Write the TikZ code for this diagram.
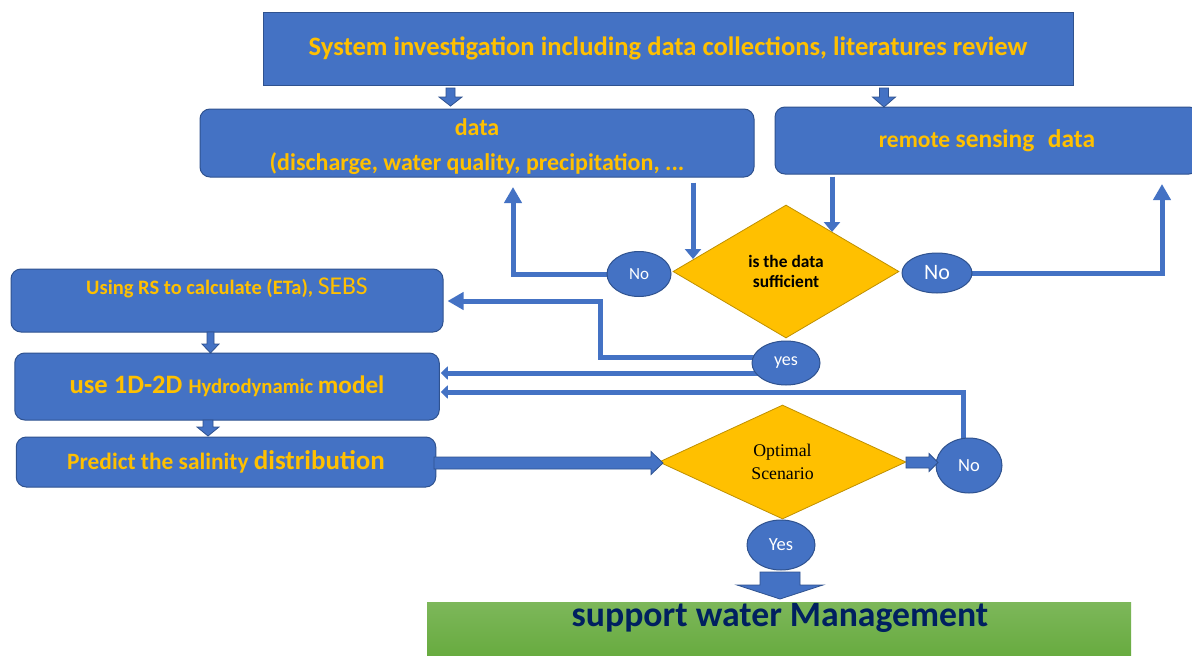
\documentclass[tikz,border=0pt]{standalone}
\usepackage{fontspec}
\setmainfont{Carlito}
\newfontfamily\timesf{Liberation Serif}
\usetikzlibrary{shapes.geometric,arrows.meta,calc,backgrounds}
\definecolor{bl}{HTML}{4472C4}
\definecolor{bd}{HTML}{2F528F}
\definecolor{yl}{HTML}{FFC000}
\definecolor{gd}{HTML}{BF9000}
\definecolor{nv}{HTML}{002060}
\definecolor{gtop}{RGB}{125,183,90}
\definecolor{gbot}{RGB}{98,168,56}
\newcommand\fsz[1]{\fontsize{#1pt}{\dimexpr #1pt*6/5\relax}\selectfont}
\newcommand\blkdown[6]{\filldraw[blk] ({#1-#5},#2) -- ({#1+#5},#2) -- ({#1+#5},#3) -- ({#1+#6},#3) -- (#1,#4) -- ({#1-#6},#3) -- ({#1-#5},#3) -- cycle;}
\newcommand\blkright[6]{\filldraw[blk] (#2,{#1-#5}) -- (#3,{#1-#5}) -- (#3,{#1-#6}) -- (#4,#1) -- (#3,{#1+#6}) -- (#3,{#1+#5}) -- (#2,{#1+#5}) -- cycle;}
\tikzset{
  box/.style={draw=bd, fill=bl, line width=1pt, rounded corners=10pt, text=yl, font=\bfseries, inner sep=0pt, align=center},
  dm/.style={diamond, draw=gd, fill=yl, line width=0.8pt, inner sep=0pt, align=center},
  el/.style={ellipse, draw=bd, fill=bl, line width=1pt, text=white, inner sep=0pt},
  blk/.style={fill=bl, draw=bd, line width=0.8pt},
  conn/.style={draw=bl, line width=5pt},
  tipA/.tip={Triangle[length=16pt,width=17pt]},
  tipB/.tip={Triangle[length=7pt,width=13pt]},
  tipC/.tip={Triangle[length=10pt,width=16pt]}
}
\begin{document}
\begin{tikzpicture}[x=1pt,y=-1pt]
\begin{scope}[on background layer]
\fill[white] (0,0) rectangle (1192,656);
\end{scope}
\useasboundingbox (0,0) rectangle (1192,656);

% boxes
\node[box, sharp corners, minimum width=810, minimum height=73] (sys) at (668,48.5)
  {\fsz{26.6}System investigation including data collections, literatures review};
\node[box, minimum width=554, minimum height=68] (data) at (477,143) {};
\node[text=yl, align=center, inner sep=0pt, font={\bfseries\fsz{24}}] (datat) at (477,147)
  {data\\[6pt](discharge, water quality, precipitation, ...};
\node[box, minimum width=424, minimum height=67] (rsd) at (987,140.5)
  {{\fsz{23.5}remote }{\fsz{25.5}sensing\hspace{0.3em} data}};
\node[box, minimum width=432, minimum height=63] (rs) at (227,300.5) {};
\node[text=yl, font=\bfseries, inner sep=0pt] (rst) at (227,288)
  {{\fsz{20.5}Using RS to calculate (ETa), }{\fsz{25.6}\mdseries SEBS}};
\node[box, minimum width=424.5, minimum height=67] (hd) at (227,386.5)
  {{\fsz{26.6}use 1D-2D }{\fsz{20.7}Hydrodynamic }{\fsz{25.2}model}};
\node[box, minimum width=419.5, minimum height=50] (pr) at (226,462)
  {{\fsz{23.4}Predict the salinity }{\fsz{27}distribution}};

% diamonds
\node[dm, minimum width=226, minimum height=133, font={\bfseries\fsz{17.4}}] (d1) at (786,271.5)
  {is the data\\sufficient};
\node[dm, minimum width=247, minimum height=114, font={\timesf\fsz{17.8}}] (d2) at (782.5,462)
  {Optimal\\[1pt]Scenario};

% ellipses
\node[el, minimum width=64, minimum height=45] (no1) at (639,274) {\fsz{17}No};
\node[el, minimum width=70, minimum height=40] (no2) at (937,273) {\fsz{22}No};
\node[el, minimum width=68, minimum height=44] (ys1) at (786,363) {\fsz{18}yes};
\node[el, minimum width=66, minimum height=55] (no3) at (969,465.5) {\fsz{18.5}No};
\node[el, minimum width=68, minimum height=50] (ys2) at (781,545) {\fsz{18.5}Yes};

% green box
\shade[top color=gtop, bottom color=gbot] (427,602) rectangle (1131,670);
\node[text=nv, font=\bfseries, inner sep=0pt] (mgt) at (780,618) {\fsz{35.7}support water Management};

% block arrows
\blkdown{450.5}{88}{97}{106}{4.5}{11.5}
\blkdown{884}{88}{97}{107}{4.5}{11.5}
\blkdown{210.5}{332}{344}{353}{3.5}{8.5}
\blkdown{208}{420}{427}{436}{5}{11}
\blkdown{780}{572}{585}{599}{20}{43}
\blkright{463}{434}{651}{663}{6}{11.5}
\blkright{462.5}{906}{929}{938}{5.5}{9}

% connectors
\coordinate (t1) at (693,259);
\coordinate (t2) at (832,232);
\coordinate (b1) at (513,187);
\coordinate (b2) at (1162,184);
\coordinate (y1a) at (600,357);
\coordinate (y1b) at (600,301);
\coordinate (y2) at (786,373);
\coordinate (n3a) at (963,392);
\begin{scope}[on background layer]
\draw[conn,-tipC] ([yshift=-5pt]data.south -| t1) -- (t1);
\draw[conn,-tipC] ([yshift=-2pt]rsd.south -| t2) -- (t2);
\draw[conn,-tipA] (no1.center) -- (no1.center -| b1) -- (b1);
\draw[conn,-tipA] (no2.center) -| (b2);
\draw[conn,-tipA] (ys1.center |- y1a) -- (y1a) -- (y1b) -- ([xshift=4pt]rs.east |- y1b);
\draw[conn,-tipB] (y2) -- ([xshift=1pt]hd.east |- y2);
\draw[conn,-tipB] (no3.center -| n3a) -- (n3a) -- ([xshift=1pt]hd.east |- n3a);
\end{scope}
\end{tikzpicture}
\end{document}
